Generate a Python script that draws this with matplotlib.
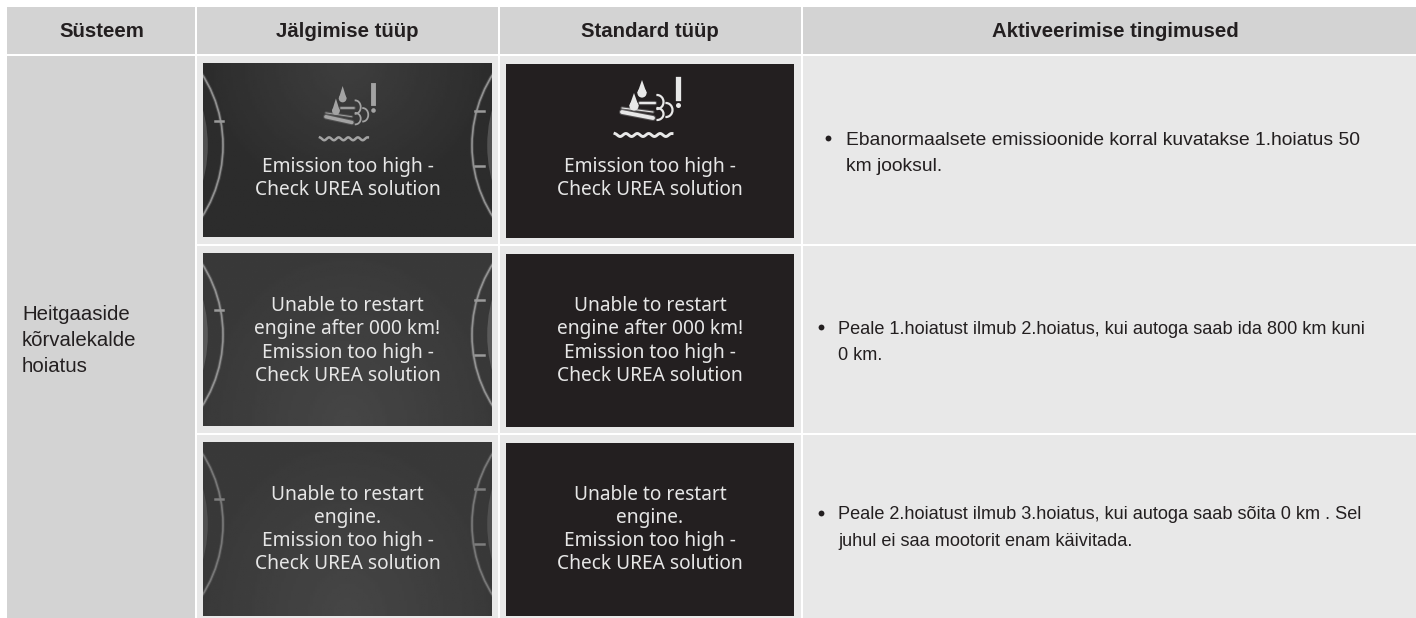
"""Warning table: emission deviation messages, drawn in pixel coordinates."""

import matplotlib

matplotlib.use("Agg")
import matplotlib.pyplot as plt
import numpy as np
from matplotlib.patches import Arc, Circle, Polygon, Rectangle

W, H = 1416, 618
BODY = ["Liberation Sans", "DejaVu Sans"]
SCREEN = ["Noto Sans", "DejaVu Sans"]

headers = ["Süsteem", "Jälgimise tüüp", "Standard tüüp", "Aktiveerimise tingimused"]
system_label = "Heitgaaside\nkõrvalekalde\nhoiatus"
messages = [
    "Emission too high -\nCheck UREA solution",
    "Unable to restart\nengine after 000 km!\nEmission too high -\nCheck UREA solution",
    "Unable to restart\nengine.\nEmission too high -\nCheck UREA solution",
]
conditions = [
    "Ebanormaalsete emissioonide korral kuvatakse 1.hoiatus 50\nkm jooksul.",
    "Peale 1.hoiatust ilmub 2.hoiatus, kui autoga saab ida 800 km kuni\n0 km.",
    "Peale 2.hoiatust ilmub 3.hoiatus, kui autoga saab sõita 0 km . Sel\njuhul ei saa mootorit enam käivitada.",
]

col_x = [7, 196, 499, 802, 1416]
row_y = [55, 245, 434, 618]
header_top = 7
header_x = [101.5, 347, 650, 1115.5]
message_y = [178.5, 341, 529.5]
condition_x = [846, 838, 838]
condition_y = [153.5, 342.5, 528]
condition_size = [13.9, 13.1, 13.1]
bullet_x = [828, 821, 821]


def cell(ax, x0, x1, y0, y1, color):
    ax.add_patch(Rectangle((x0, y0), x1 - x0, y1 - y0, fc=color, ec="none"))


def screen_shade(r, nx=120, ny=80):
    # soft glow: top centre on the first screen, bottom centre on the others
    x = np.linspace(-1, 1, nx)[None, :]
    y = np.linspace(0, 1, ny)[:, None]
    if r == 0:
        d = np.sqrt((x / 1.0) ** 2 + (y / 0.8) ** 2)
        return 0.175 + 0.07 * np.clip(1 - d, 0, 1)
    d = np.sqrt((x / 1.0) ** 2 + ((1 - y) / 1.0) ** 2)
    return 0.225 + 0.05 * np.clip(1 - d, 0, 1)


def dial(ax, x0, x1, y0, y1, side, tone):
    # gauge rims cut off at the left and right of the tracking screens
    cy = (y0 + y1) / 2 - 5
    r = 132
    clip = Rectangle((x0, y0), x1 - x0, y1 - y0, transform=ax.transData)
    rims = [(20, 2.6, tone, 0.25), (20, 1.2, tone, 0.9), (2, 4.0, tone, 0.35)]
    for off, lw, c, a in rims:
        if side == "left":
            arc = Arc((x0 + off - r, cy), 2 * r, 2 * r, theta1=-45, theta2=45, color=c, lw=lw, alpha=a, zorder=2)
        else:
            arc = Arc((x1 - off + r, cy), 2 * r, 2 * r, theta1=135, theta2=225, color=c, lw=lw, alpha=a, zorder=2)
        ax.add_patch(arc).set_clip_path(clip)
    if side == "left":
        ax.plot([x0 + 12, x0 + 20], [cy - 25, cy - 25], color=tone, lw=1.8, zorder=2)
    else:
        ax.plot([x1 - 17, x1 - 8], [cy - 35, cy - 35], color=tone, lw=1.8, zorder=2)
        ax.plot([x1 - 17, x1 - 8], [cy + 20, cy + 20], color=tone, lw=1.8, zorder=2)


def icon(ax, cx, cy, sx, sy, color, lw):
    # droplets, exhaust bars, smoke curls, water line and the exclamation mark
    def px(u):
        return cx + u * sx

    def py(v):
        return cy + v * sy

    for dx, top, base in [(-4, -25, -12), (-12, -12, 1)]:
        ax.add_patch(Polygon([(px(dx - 4.6), py(base)), (px(dx), py(top)), (px(dx + 4.6), py(base))],
                             fc=color, ec="none", zorder=3))
        ax.add_patch(Circle((px(dx), py(base)), 4.6 * sx, fc=color, ec="none", zorder=3))
    strokes = [
        ([px(-6), px(9)], [py(-2), py(-2)], lw),
        ([px(-24), px(7)], [py(7), py(13)], lw + 1.2),
        ([px(-24), px(7)], [py(3), py(7)], lw * 0.5),
    ]
    for xs, ys, w in strokes:
        ax.plot(xs, ys, color=color, lw=w + 1.5, alpha=0.25, solid_capstyle="round", zorder=3)
        ax.plot(xs, ys, color=color, lw=w, solid_capstyle="round", zorder=3)
    for u, v, w, h in [(11, -3, 13, 14), (11, 9, 13, 12), (20, 5, 13, 14)]:
        ax.add_patch(Arc((px(u), py(v)), w * sx, h * sy, theta1=-95, theta2=95, color=color, lw=lw, zorder=3))
    us = np.linspace(-31, 26, 80)
    ax.plot(px(us), py(30 + 1.5 * np.cos((us + 3) * 0.55)), color=color, lw=lw + 0.5, zorder=3)
    ax.plot([px(32), px(32)], [py(-26), py(-7)], color=color, lw=lw + 2.2, zorder=3)
    ax.plot([px(32)], [py(0)], "o", color=color, ms=lw + 2, mew=0, zorder=3)


fig = plt.figure(figsize=(W / 100, H / 100), dpi=100, facecolor="white")
ax = fig.add_axes([0, 0, 1, 1])

# header band
for i, label in enumerate(headers):
    x0 = col_x[i] + (1 if i else 0)
    x1 = col_x[i + 1] - 1 if i < 3 else W
    cell(ax, x0, x1, header_top, row_y[0] - 1, "#d3d3d3")
    ax.text(header_x[i], 31.5, label, ha="center", va="center", family=BODY,
            fontsize=14.7, fontweight="bold", color="#231f20")

# system column
cell(ax, col_x[0], col_x[1] - 1, row_y[0] + 1, H, "#d3d3d3")
ax.text(22, 340.5, system_label, ha="left", va="center", family=BODY, fontsize=14.7,
        color="#231f20", linespacing=1.48)

# body rows
for r in range(3):
    y0 = row_y[r] + 1
    y1 = row_y[r + 1] - 1 if r < 2 else H
    for c in (1, 2, 3):
        x0 = col_x[c] + 1
        x1 = col_x[c + 1] - 1 if c < 3 else W
        cell(ax, x0, x1, y0, y1, "#e8e8e8")

    iy0, iy1 = y0 + 7.5, y1 - 6.5
    if r == 2:
        iy1 = H - 2

    # tracking screen
    ax.imshow(screen_shade(r), extent=(203, 492, iy1, iy0), cmap="gray", vmin=0, vmax=1,
              aspect="auto", zorder=1)
    tone = "#9a9a9a" if r < 2 else "#7d7d7d"
    dial(ax, 203, 492, iy0, iy1, "left", tone)
    dial(ax, 203, 492, iy0, iy1, "right", tone)

    # standard screen
    ax.add_patch(Rectangle((506, iy0 + 0.5), 288, iy1 - iy0 - 0.5, fc="#231f20", ec="none", zorder=1))

    if r == 0:
        icon(ax, 346, 110, 0.84, 0.96, "#a3a3a3", 1.3)
        icon(ax, 646, 105, 1.0, 1.0, "#e8e8e8", 1.6)
    for cx in (347.5, 650):
        ax.text(cx, message_y[r], messages[r], ha="center", va="center", family=SCREEN, fontsize=13.8,
                color="#e6e6e6", linespacing=1.21, zorder=3)

    ax.text(condition_x[r], condition_y[r], conditions[r], ha="left", va="center", family=BODY,
            fontsize=condition_size[r], color="#231f20", linespacing=1.72)
    ax.plot([bullet_x[r]], [condition_y[r] - 15.5], "o", color="#231f20", ms=4.2, mew=0)

ax.set_xlim(0, W)
ax.set_ylim(H, 0)
ax.axis("off")

fig.savefig("out.png", dpi=100, facecolor="white")
